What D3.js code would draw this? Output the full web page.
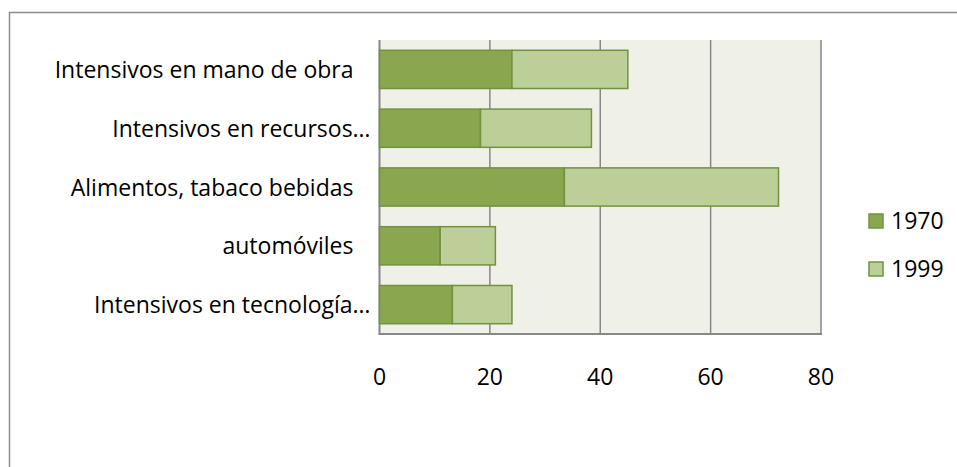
<!DOCTYPE html>
<html>
<head>
<meta charset="utf-8">
<script src="https://cdnjs.cloudflare.com/ajax/libs/d3/7.8.5/d3.min.js"></script>
<style>
    body { margin: 0; background: white; }
    svg { display: block; }
    text { font-family: 'Open Sans', sans-serif; fill: #000; }
</style>
</head>
<body>
<div id="chart"></div>
<script>
const categories = [
    'Intensivos en mano de obra',
    'Intensivos en recursos…',
    'Alimentos, tabaco bebidas',
    'automóviles',
    'Intensivos en tecnología…'
];
const values1970 = [24, 18.3, 33.5, 11, 13.2];
const values1999 = [21, 20.1, 38.8, 10, 10.8];
const seriesNames = ['1970', '1999'];
const xTicks = [0, 20, 40, 60, 80];

const width = 957;
const height = 467;
const plot = { left: 379.5, right: 821, top: 40, bottom: 334 };

const colors = ['#8aa64e', '#bccf98'];
const strokeColor = '#729240';
const fontSize = '23px';

const svg = d3.select('#chart')
    .append('svg')
    .attr('width', width)
    .attr('height', height);

// outer chart border (runs off the right and bottom edge)
svg.append('rect')
    .attr('x', 9.5)
    .attr('y', 12.5)
    .attr('width', 960)
    .attr('height', 470)
    .attr('fill', 'white')
    .attr('stroke', '#8c8c8c')
    .attr('stroke-width', 1.5);

const x = d3.scaleLinear()
    .domain([0, 80])
    .range([plot.left, plot.right]);

const y = d3.scaleBand()
    .domain(categories)
    .range([plot.top, plot.bottom])
    .paddingInner(0.35)
    .paddingOuter(0.175);

// plot background
svg.append('rect')
    .attr('x', plot.left)
    .attr('y', plot.top)
    .attr('width', plot.right - plot.left)
    .attr('height', plot.bottom - plot.top)
    .attr('fill', '#eff1e8');

// vertical gridlines
svg.append('g')
    .selectAll('line')
    .data(xTicks)
    .join('line')
    .attr('x1', d => x(d))
    .attr('x2', d => x(d))
    .attr('y1', plot.top)
    .attr('y2', plot.bottom)
    .attr('stroke', '#878787')
    .attr('stroke-width', d => d === 0 ? 2 : 1.5);

// stacked data
const rows = categories.map((c, i) => ({ name: c, '1970': values1970[i], '1999': values1999[i] }));
const stacked = d3.stack().keys(seriesNames)(rows);

const series = svg.append('g')
    .selectAll('g')
    .data(stacked)
    .join('g')
    .attr('fill', (d, i) => colors[i]);

series.selectAll('rect')
    .data(d => d)
    .join('rect')
    .attr('x', d => x(d[0]))
    .attr('y', d => y(d.data.name))
    .attr('width', d => x(d[1]) - x(d[0]))
    .attr('height', y.bandwidth())
    .attr('stroke', strokeColor)
    .attr('stroke-width', 1.5);

// bottom axis line
svg.append('line')
    .attr('x1', plot.left - 1)
    .attr('x2', plot.right + 1)
    .attr('y1', plot.bottom)
    .attr('y2', plot.bottom)
    .attr('stroke', '#878787')
    .attr('stroke-width', 2);

// x tick labels
svg.append('g')
    .selectAll('text')
    .data(xTicks)
    .join('text')
    .attr('x', d => x(d))
    .attr('y', 385)
    .attr('text-anchor', 'middle')
    .style('font-size', fontSize)
    .text(d => d);

// category labels
svg.append('g')
    .selectAll('text')
    .data(categories)
    .join('text')
    .attr('x', d => d.endsWith('…') ? plot.left - 9 : plot.left - 26)
    .attr('y', d => y(d) + y.bandwidth() / 2 + 8.5)
    .attr('text-anchor', 'end')
    .style('font-size', fontSize)
    .text(d => d);

// legend
const legend = svg.append('g')
    .attr('transform', 'translate(869, 214)');

const legendItem = legend.selectAll('g')
    .data(seriesNames)
    .join('g')
    .attr('transform', (d, i) => `translate(0, ${i * 48})`);

legendItem.append('rect')
    .attr('width', 14)
    .attr('height', 14)
    .attr('fill', (d, i) => colors[i])
    .attr('stroke', strokeColor)
    .attr('stroke-width', 1.5);

legendItem.append('text')
    .attr('x', 22)
    .attr('y', 14.5)
    .style('font-size', fontSize)
    .text(d => d);
</script>
</body>
</html>
